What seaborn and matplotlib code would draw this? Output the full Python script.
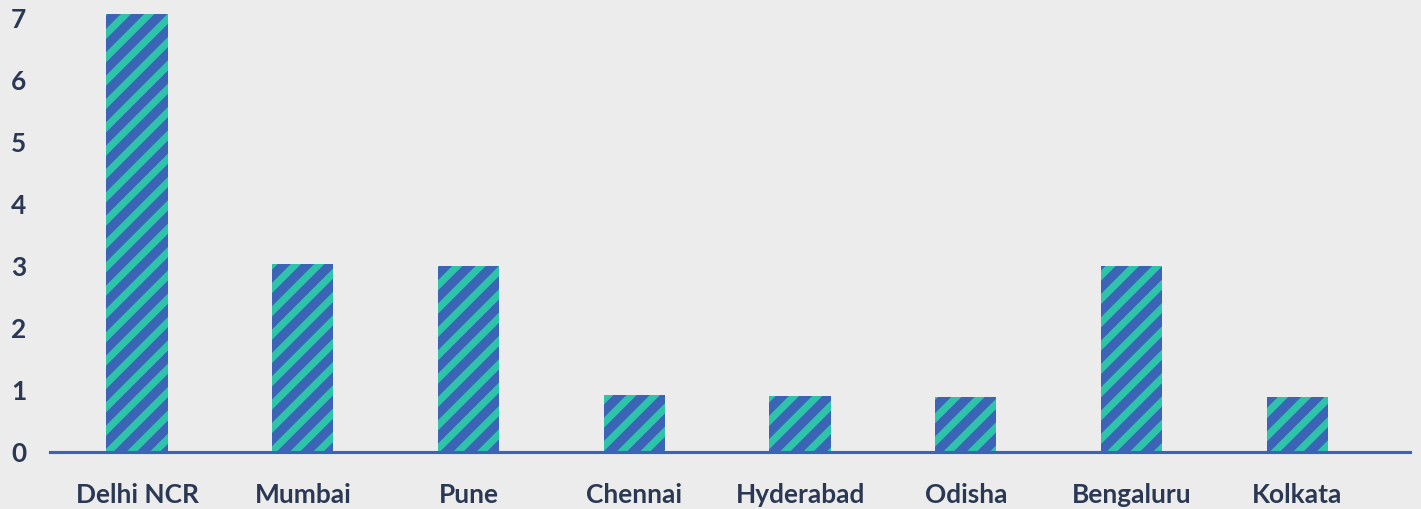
import numpy as np
import pandas as pd
import matplotlib
matplotlib.use("Agg")
import matplotlib.pyplot as plt
import seaborn as sns

# values
cities = ["Delhi NCR", "Mumbai", "Pune", "Chennai", "Hyderabad", "Odisha", "Bengaluru", "Kolkata"]
counts = [7.07, 3.03, 3.0, 0.92, 0.9, 0.89, 3.0, 0.89]
yticks = [0, 1, 2, 3, 4, 5, 6, 7]

df = pd.DataFrame({"city": cities, "count": counts})

sns.set_style("white")
plt.rcParams["font.family"] = ["Lato", "DejaVu Sans"]
plt.rcParams["hatch.linewidth"] = 3.7

bg = "#ECECEC"
blue = "#3C64B6"
teal = "#2EC4AA"
navy = "#2A3853"

# dpi 140 so the hatch stripes get the wider spacing of the original
fig = plt.figure(figsize=(1421 / 140, 509 / 140), dpi=140, facecolor=bg)
ax = fig.add_axes([0.0352, 0.112, 0.9571, 0.8605])
ax.set_facecolor(bg)

sns.barplot(data=df, x="city", y="count", color=blue, width=0.37, saturation=1, ax=ax)

for p in ax.patches:
    p.set_facecolor(blue)
    p.set_edgecolor(teal)   # hatch takes the edge colour
    p.set_hatch("//")
    p.set_linewidth(0)

ax.set_xlim(-0.525, 7.68)
ax.set_ylim(0, 7.07)
ax.set_yticks(yticks)
ax.set_xlabel("")
ax.set_ylabel("")

for s in ["top", "right", "left"]:
    ax.spines[s].set_visible(False)
ax.spines["bottom"].set_color(blue)
ax.spines["bottom"].set_linewidth(1.6)

ax.tick_params(axis="x", length=0, pad=16, labelsize=13.5, labelcolor=navy)
ax.tick_params(axis="y", length=0, labelsize=13.5, labelcolor=navy)
for lbl in ax.get_xticklabels() + ax.get_yticklabels():
    lbl.set_fontweight("bold")
for lbl in ax.get_yticklabels():
    lbl.set_horizontalalignment("left")
ax.yaxis.set_tick_params(pad=20)

fig.savefig("out.png", dpi=140, facecolor=bg)
